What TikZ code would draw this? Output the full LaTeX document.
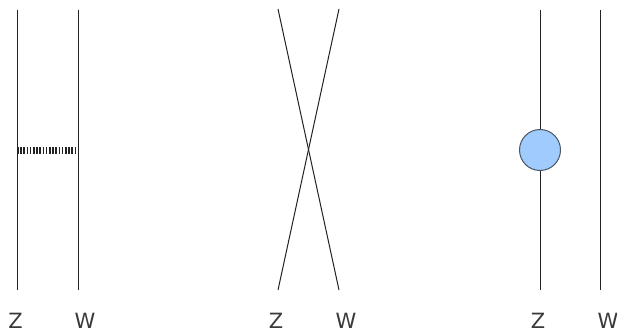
\documentclass[tikz,border=0pt]{standalone}
\usepackage{fontspec}
\setmainfont{DejaVu Sans}
\definecolor{linegray}{HTML}{222222}
\definecolor{textgray}{HTML}{3A3A3A}
\definecolor{blobblue}{HTML}{9FCBFF}
\definecolor{blobedge}{HTML}{4A5560}
\tikzset{
  wline/.style={draw=linegray, line width=1pt},
  lbl/.style={anchor=base, text=textgray, inner sep=0pt, font=\fontsize{21}{24}\selectfont},
  blob/.style={circle, draw=blobedge, fill=blobblue, line width=1pt, minimum size=41pt, inner sep=0pt},
  zigzag/.style={draw=linegray, line width=7pt, dash pattern=on 1.6pt off 1.6pt}
}
\begin{document}
\begin{tikzpicture}[x=1pt,y=-1pt]
\useasboundingbox (0,0) rectangle (617,331);
% left diagram
\coordinate (z1t) at (17,10);
\coordinate (z1b) at (17,290);
\coordinate (w1t) at (78,10);
\coordinate (w1b) at (78,290);
\coordinate (z1m) at (17,150);
\coordinate (w1m) at (78,150);
\draw[wline] (z1t) -- (z1b);
\draw[wline] (w1t) -- (w1b);
\draw[zigzag] (z1m) -- (w1m);
\node[lbl] (lz1) at (15.5,328) {Z};
\node[lbl] (lw1) at (85,328) {W};
% middle diagram
\coordinate (z2t) at (339,9);
\coordinate (z2b) at (278,290);
\coordinate (w2t) at (278,9);
\coordinate (w2b) at (339,290);
\draw[wline] (w2t) -- (w2b);
\draw[wline] (z2t) -- (z2b);
\node[lbl] (lz2) at (276,328) {Z};
\node[lbl] (lw2) at (346,328) {W};
% right diagram
\coordinate (z3t) at (540,10);
\coordinate (z3b) at (540,290);
\coordinate (w3t) at (600,10);
\coordinate (w3b) at (600,290);
\node[blob] (b3) at (540,150) {};
\draw[wline] (z3t) -- (b3.north);
\draw[wline] (b3.south) -- (z3b);
\draw[wline] (w3t) -- (w3b);
\node[lbl] (lz3) at (538,328) {Z};
\node[lbl] (lw3) at (608,328) {W};
\end{tikzpicture}
\end{document}
